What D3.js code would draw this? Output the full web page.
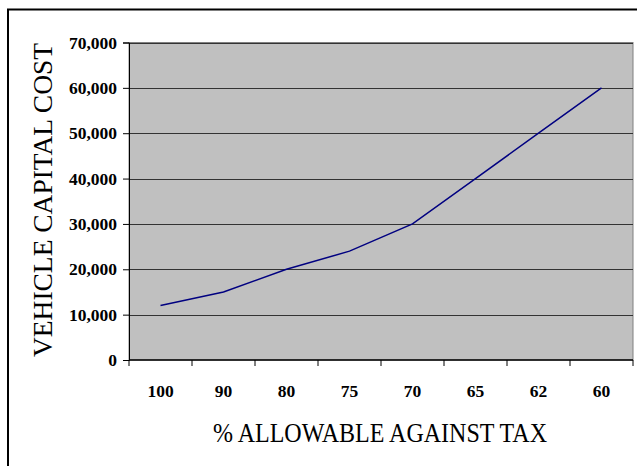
<!DOCTYPE html>
<html>
<head>
<meta charset="utf-8">
<script src="https://cdn.jsdelivr.net/npm/d3@7"></script>
<style>
  body { margin: 0; background: #fff; }
  svg { display: block; }
</style>
</head>
<body>
<div id="chart"></div>
<script>
var categories = ["100", "90", "80", "75", "70", "65", "62", "60"];
var costs = [12000, 15000, 20000, 24000, 30000, 40000, 50000, 60000];
var yTicks = [0, 10000, 20000, 30000, 40000, 50000, 60000, 70000];

var width = 637, height = 466;
var plot = { left: 129, top: 42.5, right: 633, bottom: 360 };

var svg = d3.select("#chart").append("svg")
    .attr("width", width)
    .attr("height", height);

// outer frame (runs off right and bottom edge)
svg.append("rect")
    .attr("x", 8).attr("y", 9.5)
    .attr("width", 700).attr("height", 600)
    .attr("fill", "none")
    .attr("stroke", "#000")
    .attr("stroke-width", 2);

var x = d3.scaleBand()
    .domain(categories)
    .range([plot.left, plot.right]);

var y = d3.scaleLinear()
    .domain([0, 70000])
    .range([plot.bottom, plot.top]);

// plot background
svg.append("rect")
    .attr("x", plot.left).attr("y", plot.top)
    .attr("width", plot.right - plot.left)
    .attr("height", plot.bottom - plot.top)
    .attr("fill", "#c0c0c0")
    .attr("stroke", "#808080")
    .attr("stroke-width", 1);

// gridlines
svg.append("g")
    .selectAll("line")
    .data(yTicks.slice(1))
    .enter()
    .append("line")
    .attr("x1", plot.left).attr("x2", plot.right)
    .attr("y1", function(d) { return Math.round(y(d)) + 0.5; })
    .attr("y2", function(d) { return Math.round(y(d)) + 0.5; })
    .attr("stroke", "#333")
    .attr("stroke-width", 1);

// y axis
var yAxis = svg.append("g")
    .attr("transform", "translate(" + plot.left + ",0)")
    .call(d3.axisLeft(y).tickValues(yTicks).tickSizeOuter(0).tickSize(6).tickPadding(6)
        .tickFormat(d3.format(",")));
yAxis.select(".domain").attr("stroke", "#000");
yAxis.selectAll(".tick line").attr("stroke", "#000");
yAxis.selectAll("text")
    .attr("font-family", "'Liberation Serif', 'Times New Roman', serif")
    .attr("font-weight", "bold")
    .attr("font-size", "17.5px")
    .attr("fill", "#000");

// x axis, ticks between categories
var xAxis = svg.append("g")
    .attr("transform", "translate(0," + plot.bottom + ")");
xAxis.append("line")
    .attr("x1", plot.left).attr("x2", plot.right)
    .attr("stroke", "#000").attr("stroke-width", 1.5);
xAxis.selectAll("line.tk")
    .data(categories.concat(["end"]))
    .enter()
    .append("line")
    .attr("class", "tk")
    .attr("x1", function(d, i) { return i < categories.length ? x(d) : plot.right; })
    .attr("x2", function(d, i) { return i < categories.length ? x(d) : plot.right; })
    .attr("y1", 0).attr("y2", 6)
    .attr("stroke", "#000");
xAxis.selectAll("text")
    .data(categories)
    .enter()
    .append("text")
    .attr("x", function(d) { return x(d) + x.bandwidth() / 2; })
    .attr("y", 37)
    .attr("text-anchor", "middle")
    .attr("font-family", "'Liberation Serif', 'Times New Roman', serif")
    .attr("font-weight", "bold")
    .attr("font-size", "17.5px")
    .text(function(d) { return d; });

// series line
var line = d3.line()
    .x(function(d, i) { return x(categories[i]) + x.bandwidth() / 2; })
    .y(function(d) { return y(d); });

svg.append("path")
    .datum(costs)
    .attr("d", line)
    .attr("fill", "none")
    .attr("stroke", "#000080")
    .attr("stroke-width", 1.5);

// axis titles
svg.append("text")
    .attr("x", 213).attr("y", 442)
    .attr("textLength", 334)
    .attr("lengthAdjust", "spacingAndGlyphs")
    .attr("font-family", "'Liberation Serif', 'Times New Roman', serif")
    .attr("font-size", "28px")
    .text("% ALLOWABLE AGAINST TAX");

svg.append("text")
    .attr("transform", "translate(52,357) rotate(-90)")
    .attr("textLength", 314)
    .attr("lengthAdjust", "spacingAndGlyphs")
    .attr("font-family", "'Liberation Serif', 'Times New Roman', serif")
    .attr("font-size", "28px")
    .text("VEHICLE CAPITAL COST");
</script>
</body>
</html>
